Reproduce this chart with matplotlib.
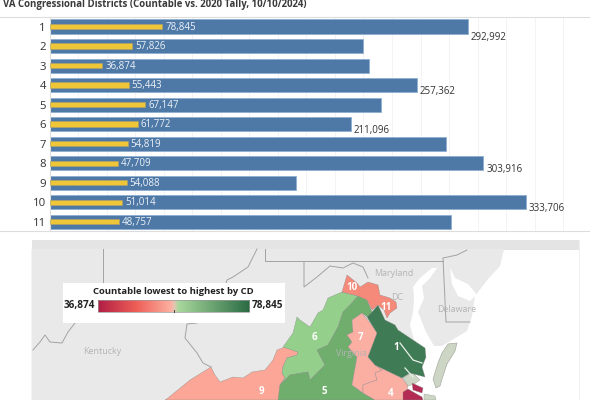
import numpy as np
import matplotlib
matplotlib.use("Agg")
import matplotlib.pyplot as plt
from matplotlib.colors import LinearSegmentedColormap
from matplotlib.patches import Polygon, Rectangle

plt.rcParams['font.family'] = ['Open Sans', 'DejaVu Sans']

districts = ["1", "2", "3", "4", "5", "6", "7", "8", "9", "10", "11"]
tally = [292992, 219500, 223700, 257362, 232300, 211096, 277900, 303916, 172500, 333706, 281400]
countable = [78845, 57826, 36874, 55443, 67147, 61772, 54819, 47709, 54088, 51014, 48757]
tally_labelled = ["1", "4", "6", "8", "10"]

title = "VA Congressional Districts (Countable vs. 2020 Tally, 10/10/2024)"
legend_title = "Countable lowest to highest by CD"

# map outlines, traced in picture pixels
land = [(31.5, 249), (504, 249), (500, 266), (488, 279), (475, 296), (472, 316), (467, 331),
        (442, 346), (434, 346), (424, 334), (418, 342), (412, 345), (405, 360), (400, 400), (31.5, 400)]
delaware_bay = [(450, 268), (455, 278), (468, 284), (477, 295), (470, 301), (458, 296), (452, 284)]
chesapeake = [(437, 268), (430, 278), (422, 286), (424, 298), (418, 312), (426, 332), (434, 346),
              (426, 350), (414, 340), (410, 325), (413, 312), (414, 298), (413, 287), (420, 278), (432, 268)]
eastern_shore = [(448, 344), (457, 343), (455, 351), (447, 364), (442, 379), (440, 386), (436, 388),
                 (433, 379), (438, 363), (442, 353)]
tan_south = [(403, 378), (412, 372), (420, 380), (414, 384), (408, 386)]
tan_cape = [(424, 394), (435, 396), (436, 400), (424, 400)]

d9 = [(165, 400), (168, 398), (190, 380), (211, 367), (215, 375), (220, 382), (233, 377), (243, 378),
      (252, 372), (265, 370), (273, 360), (277, 350), (285, 347), (298, 352), (297, 355), (287, 358),
      (283, 367), (282, 373), (285, 378), (280, 385), (280, 397), (278, 400)]
d6 = [(283, 347), (293, 333), (297, 317), (300, 320), (310, 327), (318, 313), (323, 310), (328, 298),
      (342, 292), (358, 296), (350, 305), (343, 312), (338, 327), (328, 345), (317, 350), (325, 365),
      (310, 380), (308, 372), (290, 375), (280, 385), (285, 378), (282, 373), (283, 367), (287, 358),
      (297, 355), (298, 352)]
d5 = [(358, 296), (367, 300), (372, 312), (367, 317), (362, 313), (352, 320), (353, 332), (347, 335),
      (352, 342), (348, 347), (357, 357), (352, 385), (363, 393), (375, 400), (278, 400), (280, 385),
      (290, 375), (308, 372), (310, 380), (325, 365), (317, 350), (328, 345), (338, 327), (343, 312),
      (350, 305)]
d7 = [(362, 313), (378, 333), (368, 357), (382, 370), (375, 373), (377, 380), (363, 385), (363, 393),
      (352, 385), (357, 357), (348, 347), (352, 342), (347, 335), (353, 332), (352, 320)]
d4 = [(363, 393), (363, 385), (377, 380), (375, 373), (382, 370), (375, 365), (402, 378), (408, 386),
      (404, 400), (375, 400)]
d1 = [(372, 312), (378, 305), (385, 320), (395, 325), (398, 330), (425, 348), (426, 357), (422, 367),
      (425, 377), (410, 373), (402, 378), (375, 365), (368, 357), (377, 333), (367, 317)]
d10 = [(342, 292), (347, 275), (357, 283), (360, 287), (368, 282), (378, 285), (380, 295), (390, 298),
       (396, 302), (397, 308), (390, 313), (387, 318), (384, 310), (378, 305), (372, 310), (367, 300),
       (358, 296)]
d3_a = [(412, 383), (423, 388), (422, 393), (413, 390)]
d3_b = [(403, 392), (408, 389), (422, 397), (423, 400), (403, 400)]
rivers = [[(400, 343), (413, 360), (422, 363)], [(405, 368), (413, 377)]]

borders = [
    [(103, 249), (103, 283)],
    [(257, 249), (248, 267), (233, 277), (227, 280), (226, 283)],
    [(197, 323), (187, 324), (185, 338), (197, 353), (203, 363), (211, 367)],
    [(75, 323), (68, 332), (62, 343), (50, 342), (45, 335), (40, 342), (33, 350)],
    [(265, 249), (265, 261), (443, 261)],
    [(467, 250), (457, 255), (443, 258), (446, 322), (470, 322)],
    [(304, 262), (304, 287), (317, 277), (330, 266), (343, 268), (353, 263), (363, 267), (368, 278)],
]

map_names = ["Kentucky", "Maryland", "Delaware", "DC", "Virginia"]
map_name_x = [102, 394, 457, 397, 351]
map_name_y = [352, 273, 310, 298, 353]

cd_names = ["1", "4", "5", "6", "7", "9", "10", "11"]
cd_x = [396, 391, 324, 314, 361, 261, 352, 386]
cd_y = [348, 393, 392, 338, 338, 392, 287, 307]

fig = plt.figure(figsize=(6, 4), dpi=100)

# bars
ax = fig.add_axes([49.5 / 600, 1 - 230.7 / 400, (589 - 49.5) / 600, (230.7 - 17) / 400])
y = np.arange(len(districts))
ax.barh(y, tally, height=0.72, color="#4e79a7", edgecolor="#8fb0d0", linewidth=0.6, zorder=2)
ax.barh(y, countable, height=0.27, color="#efc637", edgecolor="#b5a468", linewidth=0.4, zorder=3)
for i, name in enumerate(districts):
    ax.annotate(f"{countable[i]:,}", (countable[i], i), xytext=(2.2, -0.5), textcoords="offset points",
                color="#eef2f6", fontsize=7.0, va="center", ha="left", zorder=4)
    if name in tally_labelled:
        # the first label sits lower than the others in the original
        drop = -8.2 if name == "1" else -4.3
        ax.annotate(f"{tally[i]:,}", (tally[i], i), xytext=(2, drop), textcoords="offset points",
                    color="#333333", fontsize=7.0, va="center", ha="left", zorder=4)
ax.set_xlim(0, 378000)
ax.set_ylim(10.46, -0.487)
ax.set_xticks(np.arange(20000, 370000, 20000))
ax.set_yticks(y)
ax.set_yticklabels(districts, fontsize=8.2, color="#333333")
ax.tick_params(axis="both", length=0, pad=2.5)
ax.tick_params(axis="x", labelbottom=False)
ax.grid(axis="x", color="#f3f3f3", linewidth=0.7, zorder=0)
for s in ["top", "right", "bottom"]:
    ax.spines[s].set_visible(False)
ax.spines["left"].set_color("#dddddd")

# whole figure in pixels for the title, rules and map
mp = fig.add_axes([0, 0, 1, 1], facecolor="none")
mp.set_xlim(0, 600)
mp.set_ylim(400, 0)
mp.axis("off")

mp.text(3, 5, title, fontsize=6.9, fontweight="bold", color="#3a3a3a", va="center", ha="left")
mp.plot([0, 589], [17, 17], color="#dddddd", lw=0.8)
mp.plot([0, 589], [230.7, 230.7], color="#dddddd", lw=0.8)

mp.add_patch(Rectangle((31.5, 239.5), 547.5, 160.5, facecolor="white", edgecolor="#eeeeee", lw=0.6))
mp.add_patch(Rectangle((31.5, 239.5), 547.5, 10, facecolor="#e4e4e4", edgecolor="none"))
mp.add_patch(Polygon(land, facecolor="#e9e9e9", edgecolor="none"))
mp.add_patch(Polygon(delaware_bay, facecolor="white", edgecolor="none"))
mp.add_patch(Polygon(chesapeake, facecolor="white", edgecolor="none"))

for line in borders:
    xs, ys = zip(*line)
    mp.plot(xs, ys, color="#a3a3a3", lw=0.7)

for i, name in enumerate(map_names):
    mp.text(map_name_x[i], map_name_y[i], name, fontsize=6.4, color="#b4b4b4", ha="center", va="center")

mp.add_patch(Polygon(eastern_shore, facecolor="#cdd6c5", edgecolor="#9a9f95", lw=0.4))
mp.add_patch(Polygon(tan_south, facecolor="#cdd6c5", edgecolor="#9a9f95", lw=0.3))
mp.add_patch(Polygon(tan_cape, facecolor="#cdd6c5", edgecolor="#9a9f95", lw=0.3))

shapes = [d9, d6, d5, d7, d4, d1, d10, d3_a, d3_b]
shape_colors = ["#fba696", "#94d08b", "#6fae6d", "#fbafa3", "#fbafa3", "#3f7b55", "#f5897a", "#b32b52", "#b32b52"]
for pts, c in zip(shapes, shape_colors):
    mp.add_patch(Polygon(pts, facecolor=c, edgecolor="#8a8a8a", lw=0.25))
for line in rivers:
    xs, ys = zip(*line)
    mp.plot(xs, ys, color="#e8efe8", lw=0.9)

for i, name in enumerate(cd_names):
    mp.text(cd_x[i], cd_y[i], name, fontsize=7.0, fontweight="bold", color="white",
            ha="center", va="center", clip_on=True)

# colour legend
mp.add_patch(Rectangle((62.7, 282.7), 222.3, 40.3, facecolor="white", edgecolor="none", zorder=5))
mp.text(173.7, 291.7, legend_title, fontsize=6.8, fontweight="bold", color="#222222",
        ha="center", va="center", zorder=6)
ramp = LinearSegmentedColormap.from_list("cd", [(0, "#b01f45"), (0.25, "#ee5e57"), (0.48, "#fcb0a0"),
                                                (0.5, "#e9c4b4"), (0.53, "#a8d89c"), (1, "#2a6b44")])
mp.imshow(np.linspace(0, 1, 256).reshape(1, -1), cmap=ramp, extent=(97.7, 249.3, 311.7, 300),
          aspect="auto", zorder=6)
mp.add_patch(Rectangle((97.7, 300), 151.6, 11.7, facecolor="none", edgecolor="#9a9a9a", lw=0.5, zorder=7))
mp.plot([173.7, 173.7], [310, 312], color="#444444", lw=0.7, zorder=7)
mp.text(95, 305.5, f"{min(countable):,}", fontsize=7.2, fontweight="bold", color="#222222",
        ha="right", va="center", zorder=6)
mp.text(252, 305.5, f"{max(countable):,}", fontsize=7.2, fontweight="bold", color="#222222",
        ha="left", va="center", zorder=6)
mp.set_xlim(0, 600)
mp.set_ylim(400, 0)

fig.savefig("out.png", dpi=100)
